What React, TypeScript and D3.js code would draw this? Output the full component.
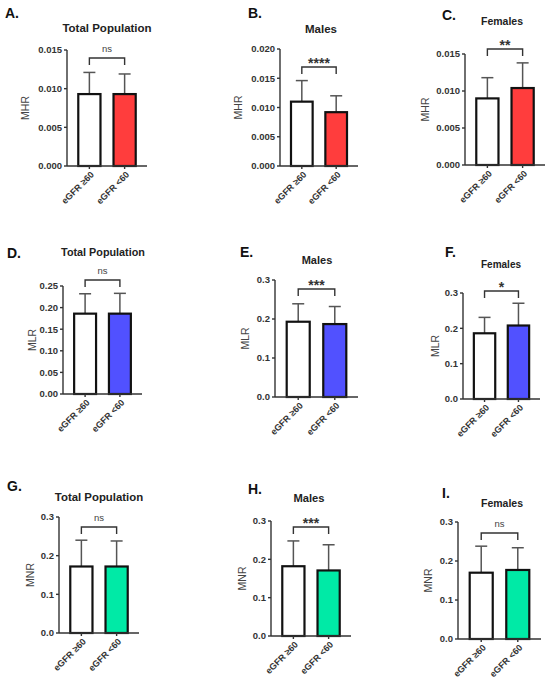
import React, { useEffect, useRef } from 'react';
import * as d3 from 'd3';

// Data
const groups = ['eGFR ≥60', 'eGFR <60'];
const panelLetters = ['A.', 'B.', 'C.', 'D.', 'E.', 'F.', 'G.', 'H.', 'I.'];
const panelTitles = ['Total Population', 'Males', 'Females', 'Total Population', 'Males', 'Females', 'Total Population', 'Males', 'Females'];
const yLabels = ['MHR', 'MHR', 'MHR', 'MLR', 'MLR', 'MLR', 'MNR', 'MNR', 'MNR'];
const means = [
  [0.0093, 0.0093], [0.0110, 0.0092], [0.0090, 0.0104],
  [0.186, 0.186], [0.193, 0.187], [0.186, 0.208],
  [0.172, 0.172], [0.182, 0.171], [0.170, 0.177],
];
const sds = [
  [0.0028, 0.0026], [0.0036, 0.0028], [0.0028, 0.0034],
  [0.046, 0.047], [0.046, 0.045], [0.045, 0.063],
  [0.068, 0.066], [0.066, 0.067], [0.068, 0.057],
];
const yMax = [0.015, 0.020, 0.015, 0.25, 0.3, 0.3, 0.3, 0.3, 0.3];
const yStep = [0.005, 0.005, 0.005, 0.05, 0.1, 0.1, 0.1, 0.1, 0.1];
const yDecimals = [3, 3, 3, 2, 1, 1, 1, 1, 1];
const sigLabels = ['ns', '****', '**', 'ns', '***', '*', 'ns', '***', 'ns'];
const fillColors = ['#ff3d3d', '#ff3d3d', '#ff3d3d', '#5151ff', '#5151ff', '#5151ff', '#00eaa6', '#00eaa6', '#00eaa6'];

// Pixel layout of each panel in the 550x685 figure
const frames = [
  { x0: 67, x1: 147, yTop: 50, yBot: 166, brY: 58, lab: 42, lx: 5, ly: 18, tx: 107, ty: 32, ts: 11.5 },
  { x0: 280, x1: 358, yTop: 49, yBot: 166, brY: 67, lab: 42, lx: 248, ly: 18, tx: 321, ty: 33, ts: 11.5 },
  { x0: 465, x1: 545, yTop: 54, yBot: 165, brY: 49, lab: 40, lx: 442, ly: 20, tx: 502, ty: 25, ts: 10.5 },
  { x0: 63, x1: 142, yTop: 286, yBot: 394, brY: 280, lab: 31, lx: 7, ly: 258, tx: 103, ty: 256, ts: 10.8 },
  { x0: 275, x1: 358, yTop: 280, yBot: 397, brY: 289, lab: 30, lx: 240, ly: 257, tx: 317, ty: 264, ts: 11 },
  { x0: 463, x1: 540, yTop: 293, yBot: 399, brY: 291, lab: 28, lx: 445, ly: 257, tx: 501, ty: 268, ts: 10 },
  { x0: 59, x1: 139, yTop: 517, yBot: 633, brY: 527, lab: 29, lx: 7, ly: 491, tx: 99, ty: 501, ts: 11.4 },
  { x0: 271, x1: 351, yTop: 521, yBot: 636, brY: 527, lab: 29, lx: 248, ly: 494, tx: 309, ty: 502, ts: 11.2 },
  { x0: 458, x1: 541, yTop: 522, yBot: 639, brY: 533, lab: 30, lx: 442, ly: 498, tx: 502, ty: 507, ts: 10.5 },
];

const FONT = "'Liberation Sans', Arial, sans-serif";

const App: React.FC = () => {
  const svgRef = useRef<SVGSVGElement>(null);

  useEffect(() => {
    if (!svgRef.current) return;
    const svg = d3.select(svgRef.current);
    svg.selectAll('*').remove();

    svg.append('rect').attr('width', 550).attr('height', 685).attr('fill', '#fff');

    frames.forEach((f, i) => {
      const g = svg.append('g').style('font-family', FONT);

      const x = d3.scaleBand<string>()
        .domain(groups)
        .range([f.x0, f.x1])
        .paddingInner(0.37)
        .paddingOuter(0.32);
      const y = d3.scaleLinear().domain([0, yMax[i]]).range([f.yBot, f.yTop]);
      const ticks = d3.range(0, yMax[i] + yStep[i] / 2, yStep[i]);
      const fmt = d3.format(`.${yDecimals[i]}f`);

      // panel letter and title
      g.append('text')
        .attr('x', f.lx).attr('y', f.ly)
        .style('font-size', '14px').style('font-weight', 'bold').style('fill', '#111')
        .text(panelLetters[i]);
      g.append('text')
        .attr('x', f.tx).attr('y', f.ty)
        .attr('text-anchor', 'middle')
        .style('font-size', `${f.ts}px`).style('font-weight', 'bold').style('fill', '#222')
        .text(panelTitles[i]);

      // y axis
      g.append('line')
        .attr('x1', f.x0).attr('x2', f.x0).attr('y1', f.yTop).attr('y2', f.yBot)
        .attr('stroke', '#333').attr('stroke-width', 1.4);
      ticks.forEach(t => {
        g.append('line')
          .attr('x1', f.x0 - 3).attr('x2', f.x0).attr('y1', y(t)).attr('y2', y(t))
          .attr('stroke', '#333').attr('stroke-width', 1.4);
        g.append('text')
          .attr('x', f.x0 - 5).attr('y', y(t)).attr('dy', '0.35em')
          .attr('text-anchor', 'end')
          .style('font-size', '9.5px').style('font-weight', 'bold').style('fill', '#333')
          .text(fmt(t));
      });
      g.append('text')
        .attr('transform', `translate(${f.x0 - f.lab},${(f.yTop + f.yBot) / 2}) rotate(-90)`)
        .attr('dy', '0.35em')
        .attr('text-anchor', 'middle')
        .style('font-size', '10.5px').style('fill', '#444')
        .text(yLabels[i]);

      // error bars (upper only)
      groups.forEach((grp, j) => {
        const cx = (x(grp) ?? 0) + x.bandwidth() / 2;
        const top = y(means[i][j] + sds[i][j]);
        g.append('line')
          .attr('x1', cx).attr('x2', cx).attr('y1', y(means[i][j])).attr('y2', top)
          .attr('stroke', '#555').attr('stroke-width', 1.5);
        g.append('line')
          .attr('x1', cx - 6).attr('x2', cx + 6).attr('y1', top).attr('y2', top)
          .attr('stroke', '#555').attr('stroke-width', 1.5);
      });

      // bars
      groups.forEach((grp, j) => {
        g.append('rect')
          .attr('x', x(grp) ?? 0)
          .attr('y', y(means[i][j]))
          .attr('width', x.bandwidth())
          .attr('height', f.yBot - y(means[i][j]))
          .attr('fill', j === 0 ? '#fff' : fillColors[i])
          .attr('stroke', '#111').attr('stroke-width', 2.2);
      });

      // x axis
      g.append('line')
        .attr('x1', f.x0).attr('x2', f.x1).attr('y1', f.yBot).attr('y2', f.yBot)
        .attr('stroke', '#333').attr('stroke-width', 1.4);
      groups.forEach(grp => {
        const cx = (x(grp) ?? 0) + x.bandwidth() / 2;
        g.append('line')
          .attr('x1', cx).attr('x2', cx).attr('y1', f.yBot).attr('y2', f.yBot + 3)
          .attr('stroke', '#333').attr('stroke-width', 1.4);
        g.append('text')
          .attr('transform', `translate(${cx + 3},${f.yBot + 7}) rotate(-45)`)
          .attr('dy', '0.35em')
          .attr('text-anchor', 'end')
          .style('font-size', '9px').style('font-weight', 'bold').style('fill', '#333')
          .text(grp);
      });

      // significance bracket
      const c1 = (x(groups[0]) ?? 0) + x.bandwidth() / 2;
      const c2 = (x(groups[1]) ?? 0) + x.bandwidth() / 2;
      g.append('path')
        .attr('d', `M${c1},${f.brY + 7}V${f.brY}H${c2}V${f.brY + 7}`)
        .attr('fill', 'none').attr('stroke', '#333').attr('stroke-width', 1.4);
      const isNs = sigLabels[i] === 'ns';
      g.append('text')
        .attr('x', (c1 + c2) / 2)
        .attr('y', isNs ? f.brY - 6.5 : f.brY + 1)
        .attr('text-anchor', 'middle')
        .style('font-size', isNs ? '9.5px' : '14px')
        .style('font-weight', isNs ? 'normal' : 'bold')
        .style('fill', isNs ? '#444' : '#333')
        .text(sigLabels[i]);
    });
  }, []);

  return (
    <svg
      ref={svgRef}
      width={550}
      height={685}
      style={{ display: 'block', position: 'absolute', left: 0, top: 0 }}
    />
  );
};

export default App;
